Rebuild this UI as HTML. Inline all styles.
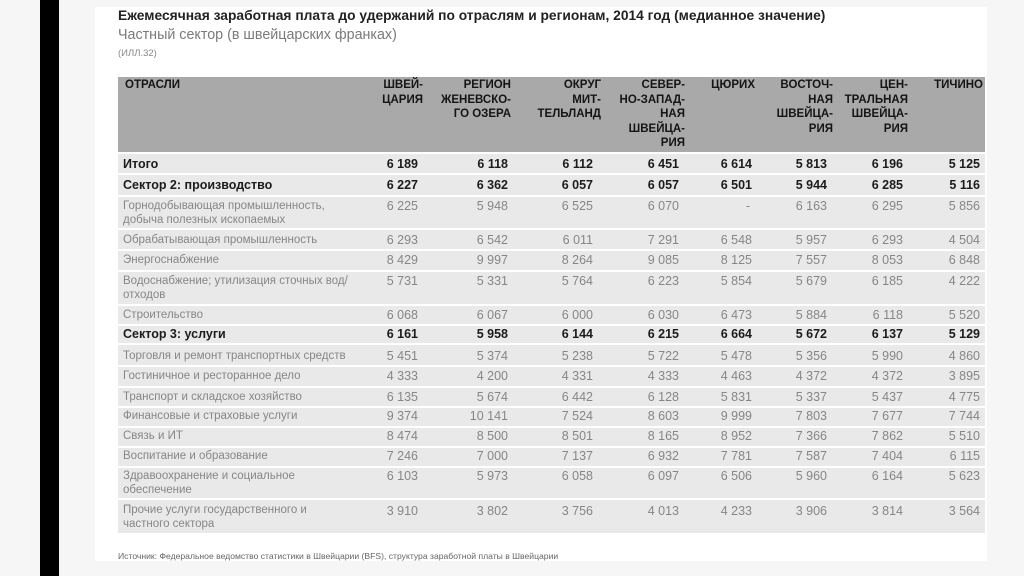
<!DOCTYPE html>
<html><head><meta charset="utf-8">
<style>
html,body{margin:0;padding:0}
body{width:1024px;height:576px;position:relative;overflow:hidden;background:#f6f6f6;font-family:"Liberation Sans","Noto Sans CJK SC",sans-serif}
.bar{position:absolute;left:40px;top:0;width:19px;height:576px;background:#000}
.panel{position:absolute;left:95px;top:7px;width:892px;height:554px;background:#fff}
.abs{position:absolute;white-space:nowrap}
.title{left:118px;top:7px;font-size:13.8px;font-weight:bold;color:#222;line-height:18px}
.sub{left:118px;top:26px;font-size:14.3px;color:#7a7a7a;line-height:18px}
.ill{left:118px;top:48px;font-size:9.5px;color:#888;line-height:12px}
.head{position:absolute;left:118px;top:77px;width:867px;height:75px;background:#a9a9a9}
.ht{position:absolute;top:78px;font-size:11.5px;font-weight:bold;color:#151515;line-height:14.6px;text-align:right;white-space:nowrap}
.row{position:absolute;left:118px;width:867px;background:#e9e9e9}
.lb{position:absolute;left:123px;font-size:11.5px;color:#868686;line-height:14px;white-space:nowrap}
.lb.b{font-size:12.5px;font-weight:bold;color:#1c1c1c}
.n{position:absolute;font-size:12.5px;color:#868686;line-height:14px;text-align:right;white-space:nowrap}
.n.b{font-weight:bold;color:#1c1c1c}
.src{left:118px;top:550px;font-size:8.6px;color:#666;line-height:12px}
</style></head><body>
<div class="bar"></div>
<div class="panel"></div>
<div class="abs title">Ежемесячная заработная плата до удержаний по отраслям и регионам, 2014 год (медианное значение)</div>
<div class="abs sub">Частный сектор (в швейцарских франках)</div>
<div class="abs ill">(ИЛЛ.32)</div>

<div class="head"></div>
<div class="ht" style="left:125px;text-align:left">ОТРАСЛИ</div>
<div class="ht" style="right:601px">ШВЕЙ-<br>ЦАРИЯ</div>
<div class="ht" style="right:513px">РЕГИОН<br>ЖЕНЕВСКО-<br>ГО ОЗЕРА</div>
<div class="ht" style="right:423px">ОКРУГ<br>МИТ-<br>ТЕЛЬЛАНД</div>
<div class="ht" style="right:339px">СЕВЕР-<br>НО-ЗАПАД-<br>НАЯ<br>ШВЕЙЦА-<br>РИЯ</div>
<div class="ht" style="right:269px">ЦЮРИХ</div>
<div class="ht" style="right:191px">ВОСТОЧ-<br>НАЯ<br>ШВЕЙЦА-<br>РИЯ</div>
<div class="ht" style="right:116px">ЦЕН-<br>ТРАЛЬНАЯ<br>ШВЕЙЦА-<br>РИЯ</div>
<div class="ht" style="right:41px">ТИЧИНО</div>

<!-- rows -->
<div class="row" style="top:154px;height:19px"></div>
<div class="row" style="top:175px;height:20px"></div>
<div class="row" style="top:197px;height:31px"></div>
<div class="row" style="top:230px;height:19px"></div>
<div class="row" style="top:251px;height:19px"></div>
<div class="row" style="top:272px;height:32px"></div>
<div class="row" style="top:306px;height:18px"></div>
<div class="row" style="top:326px;height:17px"></div>
<div class="row" style="top:345px;height:20px"></div>
<div class="row" style="top:367px;height:19px"></div>
<div class="row" style="top:388px;height:18px"></div>
<div class="row" style="top:408px;height:18px"></div>
<div class="row" style="top:428px;height:18px"></div>
<div class="row" style="top:448px;height:18px"></div>
<div class="row" style="top:468px;height:30px"></div>
<div class="row" style="top:500px;height:33px"></div>

<!-- labels -->
<div class="lb b" style="top:157px">Итого</div>
<div class="lb b" style="top:178px">Сектор 2: производство</div>
<div class="lb" style="top:199px">Горнодобывающая промышленность,<br>добыча полезных ископаемых</div>
<div class="lb" style="top:233px">Обрабатывающая промышленность</div>
<div class="lb" style="top:253px">Энергоснабжение</div>
<div class="lb" style="top:274px">Водоснабжение; утилизация сточных вод/<br>отходов</div>
<div class="lb" style="top:308px">Строительство</div>
<div class="lb b" style="top:327px">Сектор 3: услуги</div>
<div class="lb" style="top:349px">Торговля и ремонт транспортных средств</div>
<div class="lb" style="top:369px">Гостиничное и ресторанное дело</div>
<div class="lb" style="top:390px">Транспорт и складское хозяйство</div>
<div class="lb" style="top:409px">Финансовые и страховые услуги</div>
<div class="lb" style="top:429px">Связь и ИТ</div>
<div class="lb" style="top:449px">Воспитание и образование</div>
<div class="lb" style="top:469px">Здравоохранение и социальное<br>обеспечение</div>
<div class="lb" style="top:504px;line-height:13.5px">Прочие услуги государственного и<br>частного сектора</div>

<!-- numbers -->
<div class="n b" style="top:157px;right:606px">6 189</div><div class="n b" style="top:157px;right:516px">6 118</div><div class="n b" style="top:157px;right:431px">6 112</div><div class="n b" style="top:157px;right:345px">6 451</div><div class="n b" style="top:157px;right:272px">6 614</div><div class="n b" style="top:157px;right:197px">5 813</div><div class="n b" style="top:157px;right:121px">6 196</div><div class="n b" style="top:157px;right:44px">5 125</div>

<div class="n b" style="top:178px;right:606px">6 227</div><div class="n b" style="top:178px;right:516px">6 362</div><div class="n b" style="top:178px;right:431px">6 057</div><div class="n b" style="top:178px;right:345px">6 057</div><div class="n b" style="top:178px;right:272px">6 501</div><div class="n b" style="top:178px;right:197px">5 944</div><div class="n b" style="top:178px;right:121px">6 285</div><div class="n b" style="top:178px;right:44px">5 116</div>

<div class="n" style="top:199px;right:606px">6 225</div><div class="n" style="top:199px;right:516px">5 948</div><div class="n" style="top:199px;right:431px">6 525</div><div class="n" style="top:199px;right:345px">6 070</div><div class="n" style="top:199px;right:274px">-</div><div class="n" style="top:199px;right:197px">6 163</div><div class="n" style="top:199px;right:121px">6 295</div><div class="n" style="top:199px;right:44px">5 856</div>

<div class="n" style="top:233px;right:606px">6 293</div><div class="n" style="top:233px;right:516px">6 542</div><div class="n" style="top:233px;right:431px">6 011</div><div class="n" style="top:233px;right:345px">7 291</div><div class="n" style="top:233px;right:272px">6 548</div><div class="n" style="top:233px;right:197px">5 957</div><div class="n" style="top:233px;right:121px">6 293</div><div class="n" style="top:233px;right:44px">4 504</div>

<div class="n" style="top:253px;right:606px">8 429</div><div class="n" style="top:253px;right:516px">9 997</div><div class="n" style="top:253px;right:431px">8 264</div><div class="n" style="top:253px;right:345px">9 085</div><div class="n" style="top:253px;right:272px">8 125</div><div class="n" style="top:253px;right:197px">7 557</div><div class="n" style="top:253px;right:121px">8 053</div><div class="n" style="top:253px;right:44px">6 848</div>

<div class="n" style="top:274px;right:606px">5 731</div><div class="n" style="top:274px;right:516px">5 331</div><div class="n" style="top:274px;right:431px">5 764</div><div class="n" style="top:274px;right:345px">6 223</div><div class="n" style="top:274px;right:272px">5 854</div><div class="n" style="top:274px;right:197px">5 679</div><div class="n" style="top:274px;right:121px">6 185</div><div class="n" style="top:274px;right:44px">4 222</div>

<div class="n" style="top:308px;right:606px">6 068</div><div class="n" style="top:308px;right:516px">6 067</div><div class="n" style="top:308px;right:431px">6 000</div><div class="n" style="top:308px;right:345px">6 030</div><div class="n" style="top:308px;right:272px">6 473</div><div class="n" style="top:308px;right:197px">5 884</div><div class="n" style="top:308px;right:121px">6 118</div><div class="n" style="top:308px;right:44px">5 520</div>

<div class="n b" style="top:327px;right:606px">6 161</div><div class="n b" style="top:327px;right:516px">5 958</div><div class="n b" style="top:327px;right:431px">6 144</div><div class="n b" style="top:327px;right:345px">6 215</div><div class="n b" style="top:327px;right:272px">6 664</div><div class="n b" style="top:327px;right:197px">5 672</div><div class="n b" style="top:327px;right:121px">6 137</div><div class="n b" style="top:327px;right:44px">5 129</div>

<div class="n" style="top:349px;right:606px">5 451</div><div class="n" style="top:349px;right:516px">5 374</div><div class="n" style="top:349px;right:431px">5 238</div><div class="n" style="top:349px;right:345px">5 722</div><div class="n" style="top:349px;right:272px">5 478</div><div class="n" style="top:349px;right:197px">5 356</div><div class="n" style="top:349px;right:121px">5 990</div><div class="n" style="top:349px;right:44px">4 860</div>

<div class="n" style="top:369px;right:606px">4 333</div><div class="n" style="top:369px;right:516px">4 200</div><div class="n" style="top:369px;right:431px">4 331</div><div class="n" style="top:369px;right:345px">4 333</div><div class="n" style="top:369px;right:272px">4 463</div><div class="n" style="top:369px;right:197px">4 372</div><div class="n" style="top:369px;right:121px">4 372</div><div class="n" style="top:369px;right:44px">3 895</div>

<div class="n" style="top:390px;right:606px">6 135</div><div class="n" style="top:390px;right:516px">5 674</div><div class="n" style="top:390px;right:431px">6 442</div><div class="n" style="top:390px;right:345px">6 128</div><div class="n" style="top:390px;right:272px">5 831</div><div class="n" style="top:390px;right:197px">5 337</div><div class="n" style="top:390px;right:121px">5 437</div><div class="n" style="top:390px;right:44px">4 775</div>

<div class="n" style="top:409px;right:606px">9 374</div><div class="n" style="top:409px;right:516px">10 141</div><div class="n" style="top:409px;right:431px">7 524</div><div class="n" style="top:409px;right:345px">8 603</div><div class="n" style="top:409px;right:272px">9 999</div><div class="n" style="top:409px;right:197px">7 803</div><div class="n" style="top:409px;right:121px">7 677</div><div class="n" style="top:409px;right:44px">7 744</div>

<div class="n" style="top:429px;right:606px">8 474</div><div class="n" style="top:429px;right:516px">8 500</div><div class="n" style="top:429px;right:431px">8 501</div><div class="n" style="top:429px;right:345px">8 165</div><div class="n" style="top:429px;right:272px">8 952</div><div class="n" style="top:429px;right:197px">7 366</div><div class="n" style="top:429px;right:121px">7 862</div><div class="n" style="top:429px;right:44px">5 510</div>

<div class="n" style="top:449px;right:606px">7 246</div><div class="n" style="top:449px;right:516px">7 000</div><div class="n" style="top:449px;right:431px">7 137</div><div class="n" style="top:449px;right:345px">6 932</div><div class="n" style="top:449px;right:272px">7 781</div><div class="n" style="top:449px;right:197px">7 587</div><div class="n" style="top:449px;right:121px">7 404</div><div class="n" style="top:449px;right:44px">6 115</div>

<div class="n" style="top:469px;right:606px">6 103</div><div class="n" style="top:469px;right:516px">5 973</div><div class="n" style="top:469px;right:431px">6 058</div><div class="n" style="top:469px;right:345px">6 097</div><div class="n" style="top:469px;right:272px">6 506</div><div class="n" style="top:469px;right:197px">5 960</div><div class="n" style="top:469px;right:121px">6 164</div><div class="n" style="top:469px;right:44px">5 623</div>

<div class="n" style="top:504px;right:606px">3 910</div><div class="n" style="top:504px;right:516px">3 802</div><div class="n" style="top:504px;right:431px">3 756</div><div class="n" style="top:504px;right:345px">4 013</div><div class="n" style="top:504px;right:272px">4 233</div><div class="n" style="top:504px;right:197px">3 906</div><div class="n" style="top:504px;right:121px">3 814</div><div class="n" style="top:504px;right:44px">3 564</div>

<div class="abs src">Источник: Федеральное ведомство статистики в Швейцарии (BFS), структура заработной платы в Швейцарии</div>
</body></html>
